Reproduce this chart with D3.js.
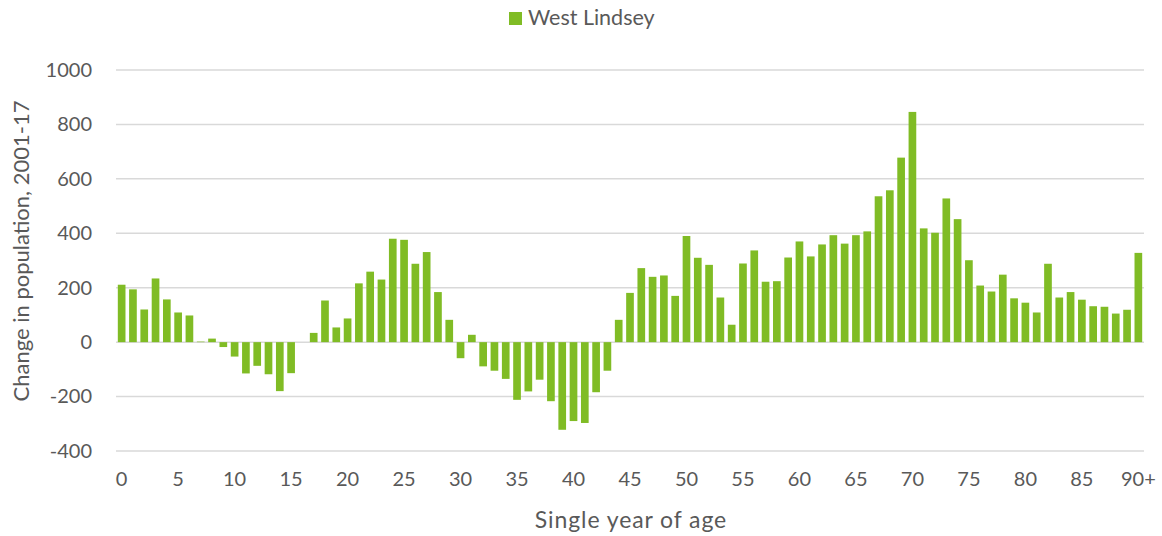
<!DOCTYPE html>
<html>
<head>
<meta charset="utf-8">
<script src="https://cdn.jsdelivr.net/npm/d3@7"></script>
<style>
  body { margin: 0; background: #fff; }
  text { font-family: Lato, "Open Sans", sans-serif; fill: #595959; }
</style>
</head>
<body>
<div id="chart"></div>
<script>
// Edades 0..89 y "90+"
const edades = d3.range(0, 90).map(String).concat(["90+"]);
const serie = "West Lindsey";
const cambio = [
  211, 194, 120, 234, 157, 109, 98, 2, 13, -18,
  -53, -115, -87, -118, -180, -114, 0, 34, 153, 54,
  87, 216, 259, 230, 380, 376, 288, 331, 184, 82,
  -59, 27, -89, -105, -135, -212, -181, -138, -217, -322,
  -290, -297, -184, -105, 82, 181, 272, 240, 245, 170,
  390, 310, 284, 164, 64, 289, 337, 222, 224, 311,
  370, 315, 359, 393, 362, 393, 407, 536, 558, 678,
  846, 418, 402, 528, 452, 301, 208, 186, 248, 161,
  145, 109, 288, 164, 184, 156, 132, 130, 105, 119,
  328
];
const yTicks = [-400, -200, 0, 200, 400, 600, 800, 1000];
const xTickLabels = ["0","5","10","15","20","25","30","35","40","45","50","55","60","65","70","75","80","85","90+"];

const width = 1162, height = 536;
const m = {left: 116, right: 18, top: 70, bottom: 85};
const verde = "#80bc25";

const svg = d3.select("#chart").append("svg")
  .attr("width", width).attr("height", height);

const x = d3.scaleBand()
  .domain(edades)
  .range([m.left, width - m.right])
  .paddingInner(0.32)
  .paddingOuter(0.16);

const y = d3.scaleLinear()
  .domain([-400, 1000])
  .range([height - m.bottom, m.top]);

// Rejilla
svg.append("g")
  .selectAll("line")
  .data(yTicks)
  .enter().append("line")
  .attr("x1", m.left).attr("x2", width - m.right)
  .attr("y1", d => y(d)).attr("y2", d => y(d))
  .attr("stroke", "#d9d9d9").attr("stroke-width", 1.5);

// Eje Y
const ejeY = svg.append("g")
  .attr("transform", `translate(${m.left - 24},0)`)
  .call(d3.axisLeft(y).tickValues(yTicks).tickFormat(d => String(d)).tickSize(0).tickPadding(0));
ejeY.select(".domain").remove();
ejeY.selectAll("text")
  .attr("font-size", "20px")
  .attr("font-family", "Lato, 'Open Sans', sans-serif")
  .attr("fill", "#595959");

// Barras
svg.append("g")
  .selectAll("rect")
  .data(cambio)
  .enter().append("rect")
  .attr("x", (d, i) => x(edades[i]))
  .attr("y", d => y(Math.max(0, d)))
  .attr("width", x.bandwidth())
  .attr("height", d => Math.abs(y(d) - y(0)))
  .attr("fill", verde);

// Eje X
const ejeX = svg.append("g")
  .attr("transform", `translate(0,${height - 64})`)
  .call(d3.axisBottom(x)
    .tickValues(xTickLabels)
    .tickSize(0).tickPadding(0));
ejeX.select(".domain").remove();
ejeX.selectAll("text")
  .attr("font-size", "20px")
  .attr("font-family", "Lato, 'Open Sans', sans-serif")
  .attr("fill", "#595959");

// Títulos
svg.append("text")
  .attr("x", 631)
  .attr("y", 528)
  .attr("text-anchor", "middle")
  .attr("font-size", "23px")
  .attr("letter-spacing", "0.9px")
  .text("Single year of age");

svg.append("text")
  .attr("transform", "translate(29,251) rotate(-90)")
  .attr("text-anchor", "middle")
  .attr("font-size", "22px")
  .text("Change in population, 2001-17");

// Leyenda
svg.append("rect")
  .attr("x", 509).attr("y", 12)
  .attr("width", 13).attr("height", 13)
  .attr("fill", verde);
svg.append("text")
  .attr("x", 528).attr("y", 25)
  .attr("font-size", "21.5px")
  .text(serie);
</script>
</body>
</html>
